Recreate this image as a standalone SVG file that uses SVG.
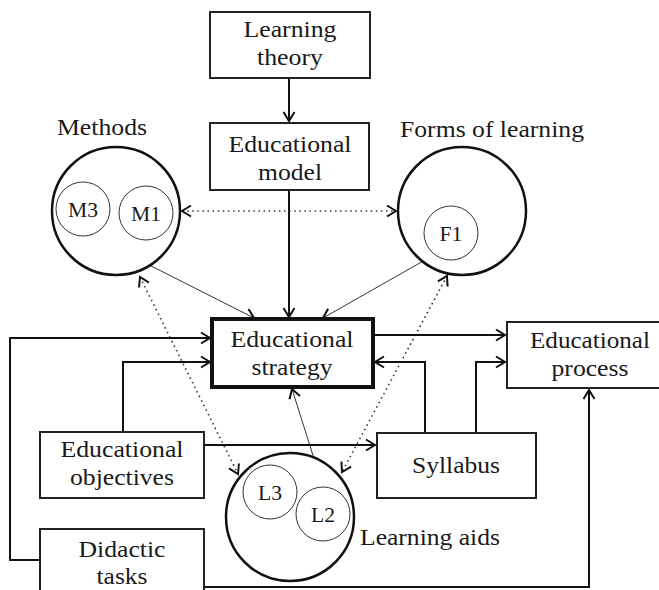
<svg xmlns="http://www.w3.org/2000/svg" width="659" height="590" viewBox="0 0 659 590" font-family="Liberation Serif, Times New Roman, serif">
<style>
text{font-family:'Liberation Serif','Times New Roman',Times,serif;fill:#1a1a1a;font-size:24px;text-anchor:middle}
.sm{font-size:21px}
.lbl{text-anchor:start}
.box{fill:#fff;stroke:#222;stroke-width:2}
.main{fill:#fff;stroke:#111;stroke-width:4}
.big{fill:#fff;stroke:#111;stroke-width:2.5}
.small{fill:none;stroke:#333;stroke-width:1}
.c{fill:none;stroke:#111;stroke-width:2}
.thin{fill:none;stroke:#333;stroke-width:1}
.dot{fill:none;stroke:#333;stroke-width:1.6;stroke-dasharray:1.5 3.6}
</style>
<defs>
<marker id="ah" viewBox="-11 -7 13 14" refX="0" refY="0" markerWidth="13" markerHeight="14" markerUnits="userSpaceOnUse" orient="auto-start-reverse">
<path d="M-9,-5.5 L0,0 L-9,5.5" fill="none" stroke="#111" stroke-width="2"/>
</marker>
</defs>
<g id="connectors">
<path class="c" d="M289,78 V121" marker-end="url(#ah)"/>
<path class="c" d="M289,190 V317" marker-end="url(#ah)"/>
<path class="thin" d="M90,235 L254,318" marker-end="url(#ah)"/>
<path class="thin" d="M432,256 L323,318" marker-end="url(#ah)"/>
<path class="thin" d="M323,487 L292,389" marker-end="url(#ah)"/>
<path class="dot" d="M182,211 H396" marker-start="url(#ah)" marker-end="url(#ah)"/>
<path class="dot" d="M140,277 L238,474" marker-start="url(#ah)" marker-end="url(#ah)"/>
<path class="dot" d="M447,276 L342,472" marker-start="url(#ah)" marker-end="url(#ah)"/>
<path class="c" d="M40,560 H10 V338 H210" marker-end="url(#ah)"/>
<path class="c" d="M123,432 V362 H210" marker-end="url(#ah)"/>
<path class="c" d="M373,335 H505" marker-end="url(#ah)"/>
<path class="c" d="M425,433 V362 H375" marker-end="url(#ah)"/>
<path class="c" d="M476,433 V362 H505" marker-end="url(#ah)"/>
<path class="c" d="M204,445 H375" marker-end="url(#ah)"/>
<path class="c" d="M204,587 H589 V390" marker-end="url(#ah)"/>
</g>
<g id="learning-theory">
<rect class="box" x="210" y="12" width="160" height="66"/>
<text x="290" y="37" textLength="93" lengthAdjust="spacingAndGlyphs">Learning</text>
<text x="290" y="65" textLength="66" lengthAdjust="spacingAndGlyphs">theory</text>
</g>
<g id="educational-model">
<rect class="box" x="210" y="123" width="159" height="67"/>
<text x="290" y="152" textLength="123" lengthAdjust="spacingAndGlyphs">Educational</text>
<text x="290" y="180" textLength="64" lengthAdjust="spacingAndGlyphs">model</text>
</g>
<g id="methods">
<circle class="big" cx="116" cy="211" r="64"/>
<text x="102" y="135" textLength="90" lengthAdjust="spacingAndGlyphs">Methods</text>
<circle class="small" cx="83" cy="209" r="27"/>
<text class="sm" x="83" y="217" textLength="30" lengthAdjust="spacingAndGlyphs">M3</text>
<circle class="small" cx="146" cy="213" r="27"/>
<text class="sm" x="146" y="221" textLength="30" lengthAdjust="spacingAndGlyphs">M1</text>
</g>
<g id="forms-of-learning">
<circle class="big" cx="462" cy="211" r="64"/>
<text x="492" y="137" textLength="184" lengthAdjust="spacingAndGlyphs">Forms of learning</text>
<circle class="small" cx="451" cy="233" r="27"/>
<text class="sm" x="451" y="241" textLength="23" lengthAdjust="spacingAndGlyphs">F1</text>
</g>
<g id="educational-strategy">
<rect class="main" x="212" y="319" width="161" height="68"/>
<text x="292" y="347" textLength="123" lengthAdjust="spacingAndGlyphs">Educational</text>
<text x="292" y="375" textLength="81" lengthAdjust="spacingAndGlyphs">strategy</text>
</g>
<g id="educational-process">
<rect class="box" x="507" y="322" width="165" height="66"/>
<text x="590" y="348" textLength="120" lengthAdjust="spacingAndGlyphs">Educational</text>
<text x="590" y="376" textLength="77" lengthAdjust="spacingAndGlyphs">process</text>
</g>
<g id="educational-objectives">
<rect class="box" x="40" y="432" width="164" height="66"/>
<text x="122" y="457" textLength="123" lengthAdjust="spacingAndGlyphs">Educational</text>
<text x="122" y="485" textLength="104" lengthAdjust="spacingAndGlyphs">objectives</text>
</g>
<g id="syllabus">
<rect class="box" x="377" y="433" width="159" height="65"/>
<text x="456" y="473" textLength="88" lengthAdjust="spacingAndGlyphs">Syllabus</text>
</g>
<g id="learning-aids">
<circle class="big" cx="290" cy="517" r="64"/>
<text class="lbl" x="360" y="545" textLength="140" lengthAdjust="spacingAndGlyphs">Learning aids</text>
<circle class="small" cx="270" cy="492" r="27"/>
<text class="sm" x="270" y="500" textLength="24" lengthAdjust="spacingAndGlyphs">L3</text>
<circle class="small" cx="323" cy="514" r="27"/>
<text class="sm" x="323" y="522" textLength="24" lengthAdjust="spacingAndGlyphs">L2</text>
</g>
<g id="didactic-tasks">
<rect class="box" x="40" y="529" width="164" height="70"/>
<text x="122" y="557" textLength="87" lengthAdjust="spacingAndGlyphs">Didactic</text>
<text x="122" y="584" textLength="51" lengthAdjust="spacingAndGlyphs">tasks</text>
</g>
</svg>
